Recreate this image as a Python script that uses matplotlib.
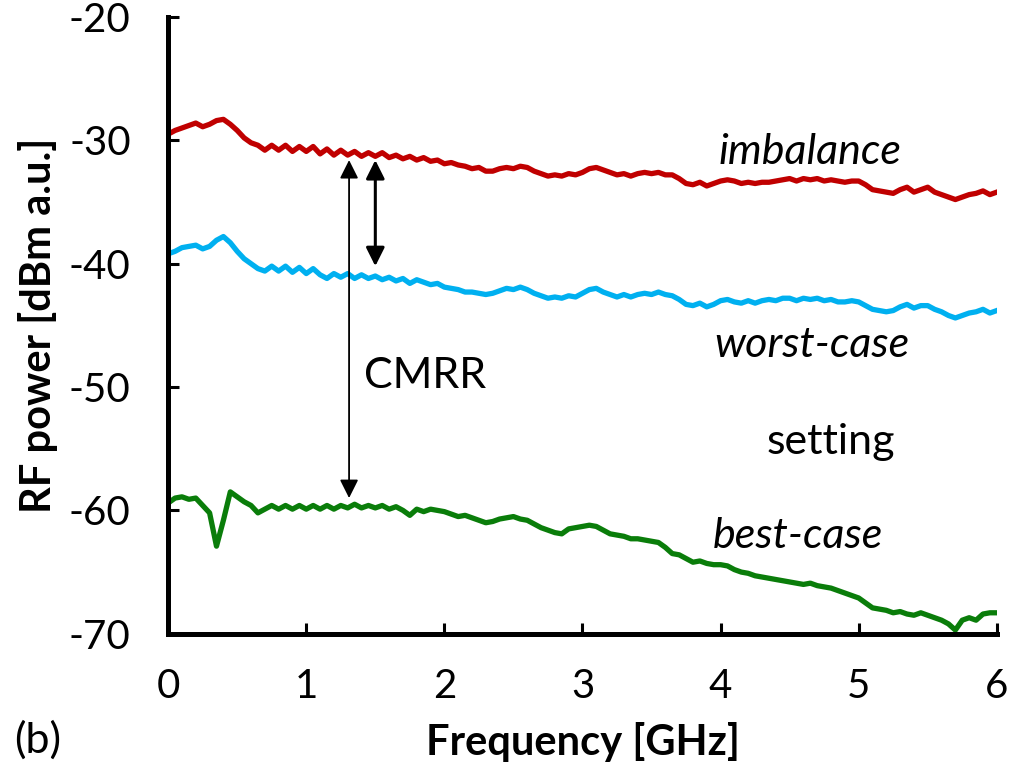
import numpy as np
import matplotlib.pyplot as plt

plt.rcParams["font.family"] = ["Lato", "DejaVu Sans"]
plt.rcParams["axes.unicode_minus"] = False

# 频率轴 (GHz), 0.05 GHz 步长
freq = np.linspace(0, 6, 121)

imbalance = [
    -29.5, -29.2, -29.0, -28.8, -28.6, -28.9, -28.7, -28.4, -28.3, -28.7,
    -29.2, -29.8, -30.2, -30.4, -30.8, -30.4, -30.8, -30.4, -30.9, -30.5,
    -30.9, -30.5, -31.1, -30.7, -31.2, -30.8, -31.2, -30.9, -31.3, -31.0,
    -31.3, -31.0, -31.4, -31.2, -31.5, -31.3, -31.6, -31.4, -31.7, -31.6,
    -31.9, -31.8, -32.0, -32.1, -32.3, -32.2, -32.5, -32.5, -32.3, -32.2,
    -32.3, -32.1, -32.2, -32.5, -32.7, -32.9, -32.8, -32.9, -32.7, -32.8,
    -32.6, -32.3, -32.2, -32.4, -32.6, -32.8, -32.7, -32.9, -32.7, -32.6,
    -32.7, -32.6, -32.8, -32.8, -33.1, -33.5, -33.6, -33.4, -33.7, -33.5,
    -33.3, -33.2, -33.3, -33.5, -33.4, -33.5, -33.4, -33.4, -33.3, -33.2,
    -33.1, -33.3, -33.1, -33.2, -33.1, -33.3, -33.2, -33.3, -33.4, -33.3,
    -33.3, -33.6, -34.0, -34.1, -34.2, -34.3, -34.0, -33.8, -34.2, -34.0,
    -33.8, -34.2, -34.4, -34.6, -34.8, -34.6, -34.4, -34.3, -34.1, -34.4,
    -34.2,
]

worst_case = [
    -39.2, -39.0, -38.7, -38.6, -38.5, -38.8, -38.6, -38.1, -37.8, -38.3,
    -39.0, -39.6, -40.0, -40.4, -40.6, -40.2, -40.6, -40.2, -40.7, -40.3,
    -40.8, -40.4, -40.9, -41.2, -40.8, -41.1, -40.8, -41.2, -40.9, -41.2,
    -41.0, -41.3, -41.1, -41.4, -41.2, -41.6, -41.3, -41.5, -41.7, -41.6,
    -41.9, -42.0, -42.1, -42.3, -42.3, -42.4, -42.5, -42.4, -42.2, -42.0,
    -42.1, -41.9, -42.1, -42.4, -42.6, -42.8, -42.7, -42.8, -42.6, -42.7,
    -42.4, -42.1, -42.0, -42.3, -42.5, -42.7, -42.5, -42.7, -42.5, -42.4,
    -42.5, -42.3, -42.5, -42.6, -42.9, -43.3, -43.4, -43.2, -43.5, -43.3,
    -43.0, -42.9, -43.1, -43.2, -43.0, -43.2, -43.0, -42.9, -43.0, -42.8,
    -42.8, -43.0, -42.8, -42.9, -42.8, -43.0, -42.9, -43.1, -43.1, -43.0,
    -43.1, -43.4, -43.7, -43.8, -43.9, -43.8, -43.5, -43.3, -43.6, -43.4,
    -43.4, -43.7, -43.9, -44.2, -44.4, -44.2, -44.0, -43.9, -43.7, -44.0,
    -43.8,
]

best_case = [
    -59.4, -59.0, -58.9, -59.1, -59.0, -59.6, -60.2, -62.9, -60.8, -58.5,
    -58.9, -59.3, -59.6, -60.2, -59.9, -59.6, -59.9, -59.6, -59.9, -59.6,
    -59.9, -59.6, -59.9, -59.6, -59.9, -59.6, -59.8, -59.5, -59.8, -59.6,
    -59.8, -59.6, -59.9, -59.7, -60.0, -60.4, -59.9, -60.1, -59.9, -60.0,
    -60.1, -60.3, -60.5, -60.4, -60.6, -60.8, -61.0, -60.9, -60.7, -60.6,
    -60.5, -60.7, -60.8, -61.1, -61.4, -61.6, -61.8, -61.9, -61.5, -61.4,
    -61.3, -61.2, -61.3, -61.6, -61.9, -62.0, -62.1, -62.3, -62.3, -62.4,
    -62.5, -62.6, -63.0, -63.5, -63.6, -63.9, -64.2, -64.1, -64.3, -64.4,
    -64.4, -64.5, -64.8, -65.0, -65.1, -65.3, -65.4, -65.5, -65.6, -65.7,
    -65.8, -65.9, -66.0, -65.9, -66.1, -66.2, -66.3, -66.5, -66.7, -66.9,
    -67.1, -67.5, -67.9, -68.0, -68.1, -68.3, -68.2, -68.4, -68.5, -68.3,
    -68.5, -68.7, -68.9, -69.2, -69.7, -68.9, -68.7, -68.9, -68.4, -68.3,
    -68.3,
]

fig = plt.figure(figsize=(10.13, 7.71), dpi=100)
ax = fig.add_axes([0.166, 0.178, 0.818, 0.800])

lw = 3.8
ax.plot(freq, imbalance, color="#C00000", lw=lw, solid_joinstyle="round")
ax.plot(freq, worst_case, color="#00B0F0", lw=lw, solid_joinstyle="round")
ax.plot(freq, best_case, color="#0A7D0A", lw=lw, solid_joinstyle="round")

ax.set_xlim(0, 6)
ax.set_ylim(-70, -20)
ax.set_xticks(range(7))
ax.set_yticks([-70, -60, -50, -40, -30, -20])

for side in ["top", "right"]:
    ax.spines[side].set_visible(False)
for side in ["left", "bottom"]:
    ax.spines[side].set_linewidth(3.6)
ax.tick_params(direction="in", length=8, width=2.2, labelsize=29)
ax.tick_params(axis="x", pad=25)
ax.tick_params(axis="y", pad=27)

ax.set_xlabel("Frequency [GHz]", fontsize=30, fontweight="bold", labelpad=12)
ax.set_ylabel("RF power [dBm a.u.]", fontsize=30, fontweight="bold", labelpad=8)

# CMRR 箭头
arrow_kw = dict(arrowstyle="<|-|>", color="black", mutation_scale=28, shrinkA=0, shrinkB=0)
ax.annotate("", xy=(1.31, -31.6), xytext=(1.31, -59.0),
            arrowprops=dict(lw=1.3, **arrow_kw))
ax.annotate("", xy=(1.50, -31.6), xytext=(1.50, -40.2),
            arrowprops=dict(lw=2.2, **arrow_kw))

ax.text(1.86, -48.8, "CMRR", fontsize=31, ha="center", va="center_baseline")
ax.text(4.645, -30.65, "imbalance", fontsize=31, style="italic", ha="center", va="center_baseline")
ax.text(4.66, -46.3, "worst-case", fontsize=31, style="italic", ha="center", va="center_baseline")
ax.text(4.80, -54.2, "setting", fontsize=31, ha="center", va="center_baseline")
ax.text(4.56, -61.8, "best-case", fontsize=31, style="italic", ha="center", va="center_baseline")

fig.text(0.037, 0.04, "(b)", fontsize=31, ha="center", va="center")

fig.savefig("out.png", dpi=100)
